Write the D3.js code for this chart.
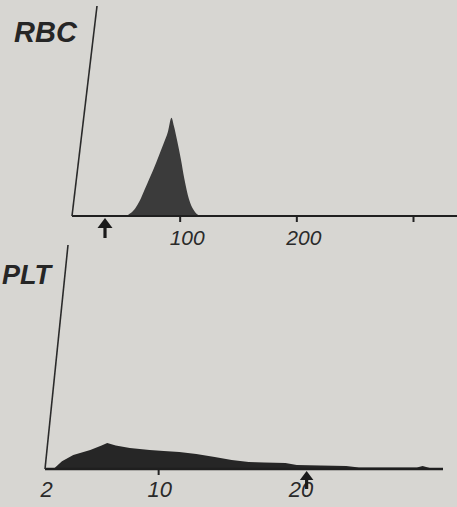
<!DOCTYPE html>
<html>
<head>
<meta charset="utf-8">
<script src="https://cdnjs.cloudflare.com/ajax/libs/d3/7.8.5/d3.min.js"></script>
<style>
  body { margin: 0; background: #d7d6d2; }
  svg { display: block; }
</style>
</head>
<body>
<svg class="chart"></svg>
<script>
// RBC histogram (size in fL, relative count)
var rbcSize = [54, 58, 62, 66, 70, 74, 78, 82, 86, 90, 93, 95, 98, 101, 104, 108, 112, 116, 120];
var rbcCount = [0, 3, 8, 16, 27, 38, 49, 61, 73, 86, 100, 92, 76, 58, 38, 17, 6, 1, 0];
var rbcTicks = [100, 200, 300];
var rbcTickLabels = ["100", "200", ""];
var rbcMarker = 36;

// PLT histogram (size in fL, relative count)
var pltSize = [2.6, 3.2, 4, 5.2, 6, 6.4, 7, 8, 9.4, 10.4, 11.5, 12.7, 14, 15.2, 16.4, 17.5, 19, 19.8, 21.5, 23.3, 24.2, 26, 28.3, 28.7, 29.2, 30];
var pltCount = [0, 30, 54, 73, 90, 100, 90, 81, 73, 69, 65, 58, 46, 35, 27, 25, 23, 15, 13, 12, 6, 6, 6, 12, 4, 2];
var pltTicks = [2, 10, 20];
var pltTickLabels = ["2", "10", "20"];
var pltMarker = 20.5;

var w = 457, h = 507;
var svg = d3.select(".chart").attr("width", w).attr("height", h);

svg.append("rect").attr("width", w).attr("height", h).attr("fill", "#d7d6d2");

// little up arrow under the axis
function arrow(g, x, y, size) {
	g.append("path")
		.attr("d", "M" + x + "," + y + " l" + (-size * 0.75) + "," + size + " l" + (size * 1.5) + ",0 z")
		.attr("fill", "#1a1a1a");
	g.append("line")
		.attr("x1", x).attr("x2", x)
		.attr("y1", y + size - 1).attr("y2", y + size * 2)
		.attr("stroke", "#1a1a1a").attr("stroke-width", 3.2);
}

function panel(opt) {
	var g = svg.append("g");
	var x = d3.scaleLinear().domain(opt.xDomain).range(opt.xRange);
	var y = d3.scaleLinear().domain([0, opt.yMax]).range([opt.base, opt.top]);

	var data = opt.sizes.map(function(s, i) { return {s: s, c: opt.counts[i]}; });

	// histogram fill
	g.append("path")
		.datum(data)
		.attr("fill", opt.fill)
		.attr("d", d3.area()
			.curve(opt.curve)
			.x(function(d) { return x(d.s); })
			.y0(y(0))
			.y1(function(d) { return y(d.c); }));

	// x axis
	var axis = g.append("g")
		.attr("transform", "translate(0," + opt.base + ")")
		.call(d3.axisBottom(x)
			.tickValues(opt.ticks)
			.tickSize(opt.tickLen)
			.tickFormat(function(d, i) { return opt.tickLabels[i]; }));
	axis.select(".domain").remove();
	axis.selectAll(".tick line").attr("stroke", "#222").attr("stroke-width", 2);
	axis.selectAll(".tick text")
		.attr("fill", "#2a2a2a")
		.attr("font-family", "Liberation Sans, Arial, sans-serif")
		.attr("font-style", "italic")
		.attr("font-size", opt.labelSize)
		.attr("dy", null)
		.attr("y", opt.labelY)
		.attr("dx", opt.labelDx);
	opt.hideTicks.forEach(function(v) {
		axis.selectAll(".tick").filter(function(d) { return d === v; }).select("line").remove();
	});

	g.append("line")
		.attr("x1", x(opt.xDomain[0]) + opt.axisStart).attr("x2", opt.axisEnd)
		.attr("y1", opt.base).attr("y2", opt.base)
		.attr("stroke", "#1f1f1f").attr("stroke-width", opt.baseWidth);

	// slanted y rule
	g.append("line")
		.attr("x1", opt.yx0).attr("y1", opt.base)
		.attr("x2", opt.yx0 + opt.slant).attr("y2", opt.top)
		.attr("stroke", "#2a2a2a").attr("stroke-width", 1.6);

	// title
	g.append("text")
		.attr("x", opt.titleX).attr("y", opt.titleY)
		.attr("text-anchor", opt.titleAnchor)
		.attr("font-family", "Liberation Sans, Arial, sans-serif")
		.attr("font-weight", "bold")
		.attr("font-style", "italic")
		.attr("font-size", opt.titleSize)
		.attr("fill", "#262626")
		.text(opt.title);

	arrow(g, x(opt.marker), opt.base + 2, opt.arrowSize);
}

panel({
	sizes: rbcSize, counts: rbcCount, ticks: rbcTicks, tickLabels: rbcTickLabels, marker: rbcMarker,
	xDomain: [0, 300], xRange: [63, 413], yMax: 214, base: 216, top: 6,
	curve: d3.curveMonotoneX, fill: "#3b3b3b",
	tickLen: 6, labelSize: 21, labelY: 29, labelDx: 7, hideTicks: [],
	axisStart: 9, axisEnd: 457, baseWidth: 2.2,
	yx0: 72, slant: 25,
	title: "RBC", titleX: 14, titleY: 42, titleAnchor: "start", titleSize: 29,
	arrowSize: 10
});

panel({
	sizes: pltSize, counts: pltCount, ticks: pltTicks, tickLabels: pltTickLabels, marker: pltMarker,
	xDomain: [2, 30], xRange: [45, 441], yMax: 862, base: 469, top: 245,
	curve: d3.curveLinear, fill: "#262626",
	tickLen: 6, labelSize: 22, labelY: 28, labelDx: 1, hideTicks: [2, 20],
	axisStart: 0, axisEnd: 443, baseWidth: 2.6,
	yx0: 45, slant: 23,
	title: "PLT", titleX: 2, titleY: 284, titleAnchor: "start", titleSize: 27,
	arrowSize: 9
});
</script>
</body>
</html>
